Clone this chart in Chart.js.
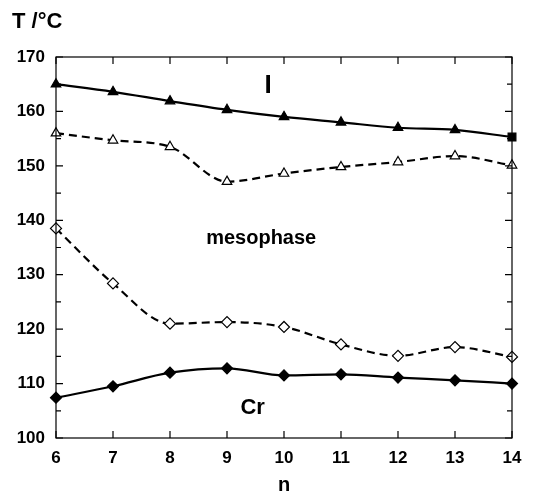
<!DOCTYPE html>
<html>
<head>
<meta charset="utf-8">
<script src="https://cdn.jsdelivr.net/npm/chart.js@4.4.1/dist/chart.umd.min.js"></script>
<style>
  html, body { margin: 0; padding: 0; background: #fff; }
  #wrap { width: 545px; height: 497px; position: relative; }
</style>
</head>
<body>
<div id="wrap"><canvas id="phaseChart"></canvas></div>
<script>
// ---- data ----
const nValues   = [6, 7, 8, 9, 10, 11, 12, 13, 14];
const clearing  = [165.0, 163.6, 161.9, 160.3, 159.0, 158.0, 157.0, 156.6, 155.3]; // filled triangles
const isoOnset  = [156.0, 154.7, 153.5, 147.1, 148.6, 149.8, 150.7, 151.8, 150.1]; // open triangles
const meltCool  = [138.5, 128.4, 121.0, 121.3, 120.4, 117.2, 115.1, 116.7, 114.9]; // open diamonds
const melting   = [107.4, 109.5, 112.0, 112.8, 111.5, 111.7, 111.1, 110.6, 110.0]; // filled diamonds
const yTicks    = [100, 110, 120, 130, 140, 150, 160, 170];

const FONT = '"Liberation Sans", Arial, Helvetica, sans-serif';
const toXY = arr => arr.map((v, i) => ({ x: nValues[i], y: v }));

// inward ticks, frame and annotations
const framePlugin = {
  id: 'frame',
  afterDraw(chart) {
    const { ctx, chartArea: a, scales: { x, y } } = chart;
    ctx.save();
    ctx.strokeStyle = '#000';
    ctx.lineWidth = 1.2;
    ctx.strokeRect(a.left, a.top, a.right - a.left, a.bottom - a.top);
    ctx.beginPath();
    for (let v = 100; v <= 170; v += 5) {
      const py = y.getPixelForValue(v);
      const len = v % 10 === 0 ? 7 : 5;
      ctx.moveTo(a.left, py); ctx.lineTo(a.left + len, py);
      ctx.moveTo(a.right, py); ctx.lineTo(a.right - len, py);
    }
    nValues.forEach(n => {
      const px = x.getPixelForValue(n);
      ctx.moveTo(px, a.bottom); ctx.lineTo(px, a.bottom - 7);
      ctx.moveTo(px, a.top); ctx.lineTo(px, a.top + 7);
    });
    ctx.stroke();

    ctx.fillStyle = '#000';
    ctx.textBaseline = 'middle';
    ctx.textAlign = 'left';
    ctx.font = 'bold 22px ' + FONT;
    ctx.fillText('T /°C', 12, 22);
    ctx.textAlign = 'center';
    ctx.font = 'bold 26px ' + FONT;
    ctx.fillText('I', x.getPixelForValue(9.72), y.getPixelForValue(164.7));
    ctx.font = 'bold 20px ' + FONT;
    ctx.fillText('mesophase', x.getPixelForValue(9.6), y.getPixelForValue(136.7));
    ctx.font = 'bold 22px ' + FONT;
    ctx.fillText('Cr', x.getPixelForValue(9.45), y.getPixelForValue(105.5));
    ctx.restore();
  }
};

const lineStyle = { borderColor: '#000', borderWidth: 2.2, tension: 0.4, cubicInterpolationMode: 'monotone', pointBorderColor: '#000', pointBorderWidth: 1.2, clip: false };

new Chart(document.getElementById('phaseChart'), {
  type: 'line',
  data: {
    datasets: [
      { ...lineStyle, data: toXY(clearing), pointStyle: nValues.map((n, i) => i === nValues.length - 1 ? 'rect' : 'triangle'),
        pointBackgroundColor: '#000', pointRadius: 5.5 },
      { ...lineStyle, data: toXY(isoOnset), borderDash: [8, 5], pointStyle: 'triangle',
        pointBackgroundColor: '#fff', pointRadius: 5.5 },
      { ...lineStyle, data: toXY(meltCool), borderDash: [8, 5], pointStyle: 'rectRot',
        pointBackgroundColor: '#fff', pointRadius: 5.5 },
      { ...lineStyle, data: toXY(melting), pointStyle: 'rectRot',
        pointBackgroundColor: '#000', pointRadius: 5.5 }
    ]
  },
  options: {
    responsive: true,
    maintainAspectRatio: false,
    animation: false,
    layout: { padding: { top: 57, right: 33, left: 0, bottom: 0 } },
    plugins: { legend: { display: false }, tooltip: { enabled: false } },
    scales: {
      x: {
        type: 'linear', min: 6, max: 14,
        afterBuildTicks: s => { s.ticks = nValues.map(v => ({ value: v })); },
        afterFit: s => { s.height = 59; },
        grid: { display: false, drawTicks: false },
        border: { display: false },
        ticks: { color: '#000', padding: 10, font: { family: FONT, size: 17, weight: 'bold' } },
        title: { display: true, text: 'n', color: '#000', padding: { top: 4, bottom: 0 }, font: { family: FONT, size: 20, weight: 'bold' } }
      },
      y: {
        min: 100, max: 170,
        afterBuildTicks: s => { s.ticks = yTicks.map(v => ({ value: v })); },
        afterFit: s => { s.width = 56; },
        grid: { display: false, drawTicks: false },
        border: { display: false },
        ticks: { color: '#000', padding: 11, font: { family: FONT, size: 17, weight: 'bold' } }
      }
    }
  },
  plugins: [framePlugin]
});
</script>
</body>
</html>
